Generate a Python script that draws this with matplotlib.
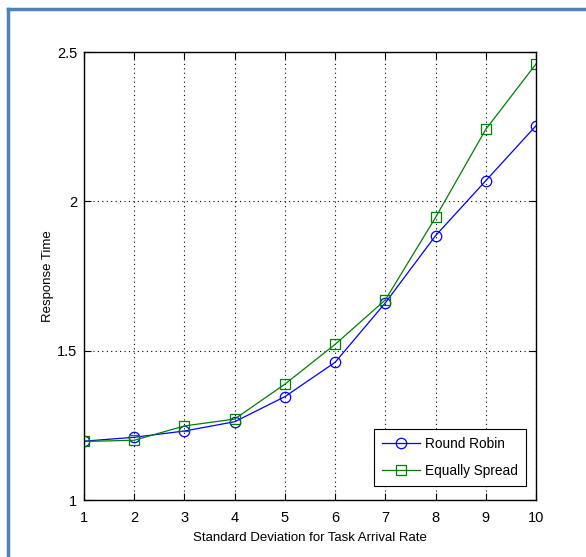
import numpy as np
from matplotlib import pyplot as plt
from matplotlib.lines import Line2D

plt.rcParams['font.family'] = ['Liberation Sans Narrow', 'Liberation Sans', 'DejaVu Sans']

# datos
x = np.arange(1, 11)
round_robin = [1.197, 1.210, 1.231, 1.262, 1.346, 1.461, 1.660, 1.885, 2.069, 2.253]
equally_spread = [1.196, 1.200, 1.248, 1.271, 1.388, 1.521, 1.670, 1.946, 2.241, 2.460]

fig = plt.figure(figsize=(5.86, 5.57), dpi=100)
ax = fig.add_axes([84/586, 1 - 500/557, (536-84)/586, (500-52)/557])

ax.plot(x, round_robin, color="#0000ff", lw=0.9, marker="o", ms=7.5,
        mfc="none", mec="#0000ff", mew=0.9, label="Round Robin")
ax.plot(x, equally_spread, color="#008000", lw=0.9, marker="s", ms=7.5,
        mfc="none", mec="#008000", mew=0.9, label="Equally Spread")

ax.set_xlim(1, 10)
ax.set_ylim(1, 2.5)
ax.set_xticks(x)
ax.set_yticks([1, 1.5, 2, 2.5])
ax.set_yticklabels(["1", "1.5", "2", "2.5"])
ax.grid(True, color="black", linestyle=(0, (1, 3)), lw=0.8)
ax.tick_params(direction="in", top=True, right=True, labelsize=10.5, length=5)
ax.tick_params(axis="x", pad=8)
ax.tick_params(axis="y", pad=5)
for s in ax.spines.values():
    s.set_linewidth(1.0)

ax.set_xlabel("Standard Deviation for Task Arrival Rate", fontsize=9.5, labelpad=5)
ax.set_ylabel("Response Time", fontsize=9.5, labelpad=2)

leg = ax.legend(loc="lower right", fontsize=9.8, fancybox=False, framealpha=1,
                edgecolor="black", borderpad=0.6, labelspacing=0.95,
                handlelength=2.8, handletextpad=0.3,
                bbox_to_anchor=(0.992, 0.016))
leg.get_frame().set_linewidth(0.8)

# marco azul del documento
fig.add_artist(Line2D([8/586, 8/586], [0, 1 - 9/557], color="#4f81bd", lw=2.5))
fig.add_artist(Line2D([8/586, 1], [1 - 9/557, 1 - 9/557], color="#4f81bd", lw=2.5))

plt.savefig("out.png", dpi=100)
plt.close()
